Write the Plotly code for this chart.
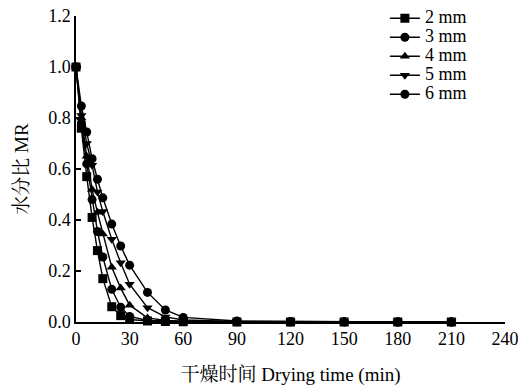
import plotly.graph_objects as go

time_min = [0, 3, 6, 9, 12, 15, 20, 25, 30, 40, 50, 60, 90, 120, 150, 180, 210]
series_names = ["2 mm", "3 mm", "4 mm", "5 mm", "6 mm"]
mr_2mm = [1.0, 0.76, 0.57, 0.41, 0.28, 0.17, 0.06, 0.025, 0.01, 0.004, 0.002, 0.001, 0.0, 0.0, 0.0, 0.0, 0.0]
mr_3mm = [1.0, 0.78, 0.62, 0.48, 0.355, 0.255, 0.128, 0.058, 0.022, 0.006, 0.003, 0.002, 0.001, 0.0, 0.0, 0.0, 0.0]
mr_4mm = [1.0, 0.80, 0.65, 0.52, 0.43, 0.345, 0.215, 0.133, 0.066, 0.016, 0.006, 0.003, 0.001, 0.0, 0.0, 0.0, 0.0]
mr_5mm = [1.0, 0.81, 0.70, 0.615, 0.51, 0.433, 0.325, 0.232, 0.148, 0.056, 0.02, 0.008, 0.002, 0.001, 0.0, 0.0, 0.0]
mr_6mm = [1.0, 0.847, 0.745, 0.64, 0.56, 0.487, 0.384, 0.298, 0.223, 0.116, 0.047, 0.018, 0.004, 0.002, 0.001, 0.0, 0.0]
all_mr = [mr_2mm, mr_3mm, mr_4mm, mr_5mm, mr_6mm]
symbols = ["square", "circle", "triangle-up", "triangle-down", "circle"]

serif = "Liberation Serif, Times New Roman, Noto Serif CJK SC, Noto Sans CJK SC, serif"

fig = go.Figure()
for name, ys, sym in zip(series_names, all_mr, symbols):
    fig.add_trace(go.Scatter(
        x=time_min, y=ys, mode="lines+markers",
        name='<span style="font-size:18px">' + name + '</span>',
        line=dict(color="black", width=1.4),
        marker=dict(symbol=sym, size=9, color="black"),
        cliponaxis=False,
    ))

fig.update_layout(
    width=518, height=390,
    margin=dict(l=76, r=13, t=16, b=68, autoexpand=False),
    paper_bgcolor="white", plot_bgcolor="white",
    font=dict(family=serif, size=17, color="black"),
    showlegend=True,
    legend=dict(x=0.72, y=1.04, xanchor="left", yanchor="top",
                bgcolor="rgba(0,0,0,0)", font=dict(size=11),
                tracegroupgap=0, itemwidth=30),
    xaxis=dict(
        range=[0, 240], tickvals=[0, 30, 60, 90, 120, 150, 180, 210, 240],
        showline=True, linecolor="black", linewidth=1.5,
        ticks="inside", ticklen=5, tickcolor="black", tickwidth=1.5,
        showgrid=False, zeroline=False, automargin=False,
        ticklabeloverflow="allow",
        tickfont=dict(size=18),
        title=dict(text="干燥时间 Drying time (min)", standoff=19,
                   font=dict(family=serif, size=19, color="black")),
    ),
    yaxis=dict(
        range=[0, 1.2], tickvals=[0, 0.2, 0.4, 0.6, 0.8, 1.0, 1.2], tickformat=".1f",
        showline=True, linecolor="black", linewidth=1.5,
        ticks="inside", ticklen=5, tickcolor="black", tickwidth=1.5,
        showgrid=False, zeroline=False, automargin=False,
        ticklabeloverflow="allow",
        tickfont=dict(size=18),
        title=dict(text="水分比 MR", standoff=15,
                   font=dict(family=serif, size=19, color="black")),
    ),
)

fig.write_html("out.html")
